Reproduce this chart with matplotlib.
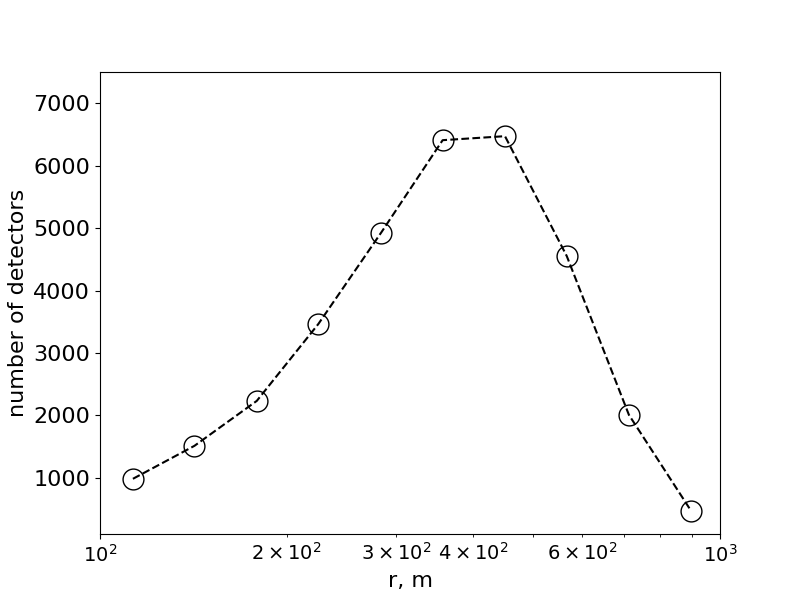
import matplotlib
matplotlib.use("Agg")
import matplotlib.pyplot as plt

r_m = [113, 142, 179, 225, 284, 357, 450, 566, 713, 898]
n_detectors = [984, 1512, 2232, 3464, 4925, 6408, 6472, 4552, 2008, 472]

plt.rcParams["font.size"] = 16

fig, ax = plt.subplots(figsize=(8, 6), dpi=100)
ax.plot(r_m, n_detectors, "k--", marker="o", markersize=15,
        markerfacecolor="none", markeredgecolor="k", markeredgewidth=1.0,
        linewidth=1.5)
ax.set_xscale("log")
ax.set_xlim(100, 1000)
ax.set_ylim(100, 7500)
ax.tick_params(axis="x", which="both", labelsize=14)
ax.set_xlabel("r, m")
ax.set_ylabel("number of detectors")
fig.savefig("out.png")
